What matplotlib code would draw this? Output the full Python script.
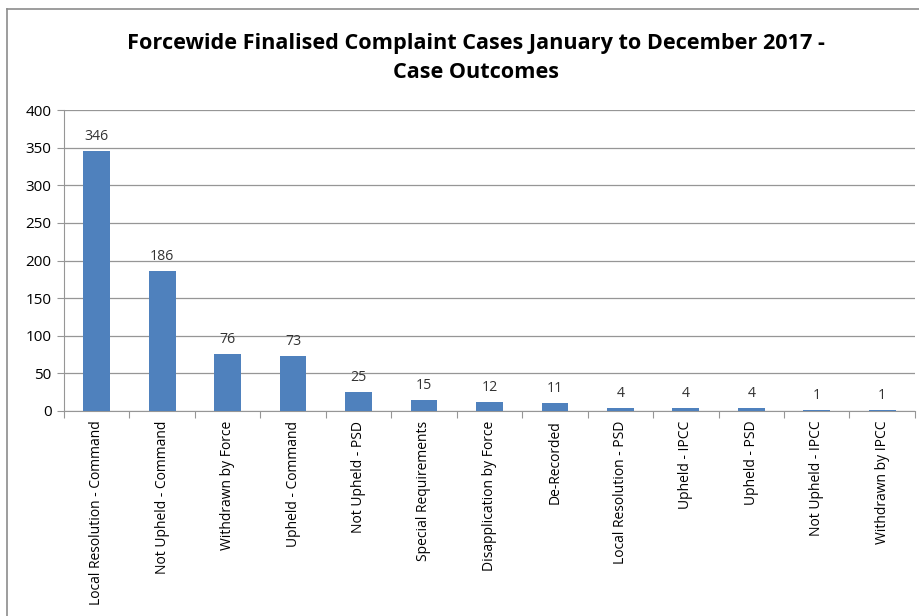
import matplotlib
matplotlib.use('Agg')
import matplotlib.pyplot as plt
from matplotlib.lines import Line2D

categories = ['Local Resolution - Command', 'Not Upheld - Command', 'Withdrawn by Force',
              'Upheld - Command', 'Not Upheld - PSD', 'Special Requirements',
              'Disapplication by Force', 'De-Recorded', 'Local Resolution - PSD',
              'Upheld - IPCC', 'Upheld - PSD', 'Not Upheld - IPCC', 'Withdrawn by IPCC']
cases = [346, 186, 76, 73, 25, 15, 12, 11, 4, 4, 4, 1, 1]

plt.rcParams['font.family'] = ['Open Sans', 'DejaVu Sans']

fig = plt.figure(figsize=(9.19, 6.16), dpi=100)
ax = fig.add_axes([0.0696, 0.3328, 0.926, 0.4886])

x = list(range(len(categories)))
ax.bar(x, cases, width=0.41, color='#4F81BD', zorder=3)
for xi, v in zip(x, cases):
    ax.annotate(str(v), (xi, v), textcoords='offset points', xytext=(0, 5),
                ha='center', va='bottom', fontsize=10.2, color='#333333')

ax.set_xlim(-0.5, len(categories) - 0.5)
ax.set_ylim(0, 400)
ax.set_yticks(range(0, 401, 50))
ax.grid(axis='y', color='#969696', linewidth=0.9, zorder=0)
ax.set_xticks([i - 0.5 for i in range(len(categories) + 1)], minor=False)
ax.set_xticklabels([])
ax.set_xticks(x, minor=True)
ax.set_xticklabels(categories, minor=True, rotation=90, fontsize=10)
ax.tick_params(axis='x', which='minor', length=0, pad=7)
ax.tick_params(axis='x', which='major', length=5, color='#969696')
ax.tick_params(axis='y', length=5, color='#969696', labelsize=11, pad=4)
for s in ['top', 'right']:
    ax.spines[s].set_visible(False)
ax.spines['left'].set_color('#969696')
ax.spines['bottom'].set_color('#969696')

fig.text(0.518, 0.93, 'Forcewide Finalised Complaint Cases January to December 2017 -',
         ha='center', va='center', fontsize=15.6, fontweight='bold')
fig.text(0.518, 0.882, 'Case Outcomes', ha='center', va='center',
         fontsize=15.6, fontweight='bold')

# chart border (cropped frame)
fig.add_artist(Line2D([7 / 919, 7 / 919], [0, 1 - 9 / 616], transform=fig.transFigure,
                      color='#8c8c8c', linewidth=1.2))
fig.add_artist(Line2D([7 / 919, 1], [1 - 9 / 616, 1 - 9 / 616], transform=fig.transFigure,
                      color='#8c8c8c', linewidth=1.2))

fig.savefig('out.png', dpi=100)
